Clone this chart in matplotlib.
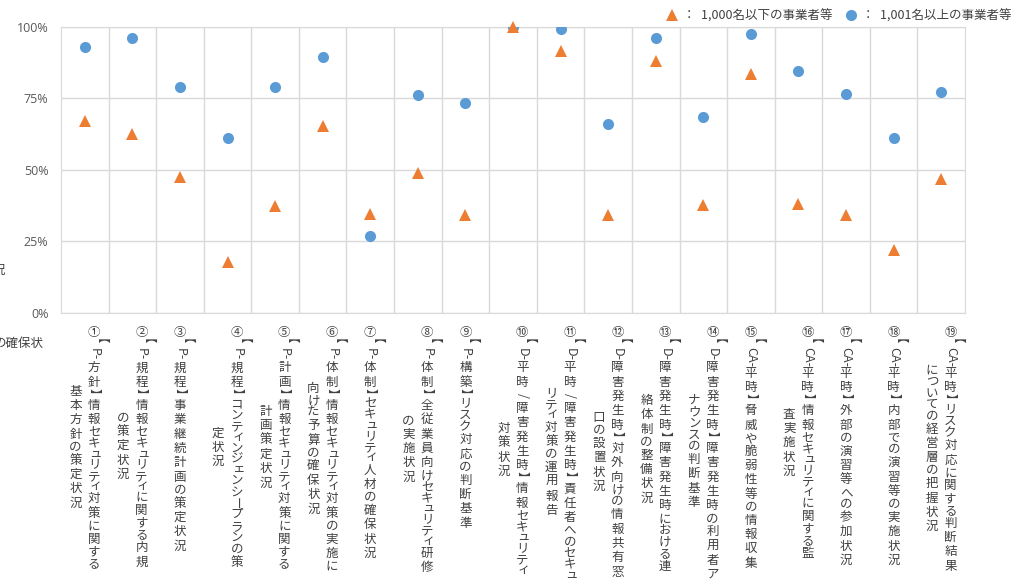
import matplotlib
matplotlib.use("Agg")
import matplotlib.pyplot as plt
from matplotlib.transforms import offset_copy
from matplotlib.lines import Line2D

plt.rcParams['font.family'] = ['Noto Sans CJK JP', 'DejaVu Sans']

# 評価項目（縦書きラベル、1要素 = 1列）
labels = [
    ["①【P-方針】情報セキュリティ対策に関する", "基本方針の策定状況"],
    ["②【P-規程】情報セキュリティに関する内規", "の策定状況"],
    ["③【P-規程】事業継続計画の策定状況"],
    ["④【P-規程】コンティンジェンシープランの策", "定状況"],
    ["⑤【P-計画】情報セキュリティ対策に関する", "計画策定状況"],
    ["⑥【P-体制】情報セキュリティ対策の実施に", "向けた予算の確保状況"],
    ["⑦【P-体制】セキュリティ人材の確保状況"],
    ["⑧【P-体制】全従業員向けセキュリティ研修", "の実施状況"],
    ["⑨【P-構築】リスク対応の判断基準"],
    ["⑩【D-平時/障害発生時】情報セキュリティ", "対策状況"],
    ["⑪【D-平時/障害発生時】責任者へのセキュ", "リティ対策の運用報告"],
    ["⑫【D-障害発生時】対外向けの情報共有窓", "口の設置状況"],
    ["⑬【D-障害発生時】障害発生時における連", "絡体制の整備状況"],
    ["⑭【D-障害発生時】障害発生時の利用者ア", "ナウンスの判断基準"],
    ["⑮【CA-平時】脅威や脆弱性等の情報収集"],
    ["⑯【CA-平時】情報セキュリティに関する監", "査実施状況"],
    ["⑰【CA-平時】外部の演習等への参加状況"],
    ["⑱【CA-平時】内部での演習等の実施状況"],
    ["⑲【CA-平時】リスク対応に関する判断結果", "についての経営層の把握状況"],
]

small_1000 = [0.671, 0.624, 0.474, 0.178, 0.373, 0.653, 0.346, 0.487, 0.342, 1.0,
              0.916, 0.343, 0.881, 0.376, 0.835, 0.381, 0.342, 0.219, 0.469]
large_1001 = [0.928, 0.959, 0.789, 0.611, 0.789, 0.895, 0.269, 0.760, 0.733, 1.0,
              0.992, 0.659, 0.959, 0.685, 0.974, 0.845, 0.765, 0.611, 0.773]

series_names = ["：  1,000名以下の事業者等", "：  1,001名以上の事業者等"]
yticks = [0, 0.25, 0.5, 0.75, 1.0]
ytick_labels = ["0%", "25%", "50%", "75%", "100%"]

BLUE = '#5B9BD5'
ORANGE = '#ED7D31'
GRID = '#D9D9D9'
TXT = '#404040'

W, H = 1019, 580
fig = plt.figure(figsize=(W / 100, H / 100), dpi=100)
ax = fig.add_axes([61 / W, 1 - 312.7 / H, (965 - 61) / W, (312.7 - 26.7) / H])

xs = list(range(len(labels)))
ax.plot(xs, large_1001, 'o', color=BLUE, ms=8, mew=0, zorder=3)
ax.plot(xs, small_1000, '^', color=ORANGE, ms=8, mew=0, zorder=4, clip_on=False)

ax.set_xlim(-0.5, len(labels) - 0.5)
ax.set_ylim(0, 1)
ax.set_yticks(yticks, ytick_labels, family=['Open Sans'], fontsize=9, color='#595959')
ax.set_xticks([i + 0.5 for i in range(len(labels) - 1)])
ax.set_xticklabels([])
ax.grid(color=GRID, lw=1)
ax.set_axisbelow(True)
ax.tick_params(length=0, pad=9)
for s in ax.spines.values():
    s.set_color(GRID)

# 縦書きラベル（文字ごとに配置、括弧・長音・英字は90度回転）
ROT = set("【】ー/")
SMALL = set("ァィゥェォャュョッ")


def is_kana(c):
    return '\u3040' <= c <= '\u30ff'


def tokens(line):
    out = []
    i = 0
    while i < len(line):
        c = line[i]
        if c.isascii() and c != "/":
            j = i
            while j < len(line) and line[j].isascii() and line[j] != "/":
                j += 1
            run = line[i:j]
            out.append((run, 0.45 * len(run) + 0.1, True, 0, 0))
            i = j
            continue
        if c in "【】":
            out.append((c, 0.7, True, 0, 0))
        elif c in ROT:
            out.append((c, 0.92, True, 0, 0))
        elif c in SMALL:
            out.append((c, 0.75, False, 0.12, 0.1))
        elif is_kana(c):
            out.append((c, 0.92, False, 0, 0))
        else:
            out.append((c, 1.15, False, 0, 0))
        i += 1
    return out


def vlabel(xpos, lines, size=9):
    step = size * 1.0
    colsp = 13.3
    toks = [tokens(l) for l in lines]
    lens = [sum(t[1] for t in tl) for tl in toks]
    longest = max(lens)
    n = len(lines)
    base = ax.get_xaxis_transform()
    for j, tl in enumerate(toks):
        dx = ((n - 1) / 2 - j) * colsp
        cur = -8.9 - (longest - lens[j]) / 2 * step
        for text, adv, rot, ox, oy in tl:
            cy = cur - adv * step / 2
            tr = offset_copy(base, fig=fig, x=dx + ox * step, y=cy + oy * step, units='points')
            ax.text(xpos, 0, text, transform=tr, ha='center', va='center',
                    rotation=-90 if rot else 0, rotation_mode='anchor',
                    fontsize=size, color=TXT, clip_on=False)
            cur -= adv * step


for i, lines in enumerate(labels):
    vlabel(i, lines)

# 凡例
handles = [Line2D([], [], ls='', marker='^', color=ORANGE, ms=8, mew=0),
           Line2D([], [], ls='', marker='o', color=BLUE, ms=8, mew=0)]
fig.legend(handles, series_names, loc='center right', bbox_to_anchor=(1023 / W, 1 - 16 / H),
           ncol=2, frameon=False, fontsize=9, handletextpad=0.4, columnspacing=1.0,
           handlelength=1.0, labelcolor=TXT)

# 左端に切れて見えている文字
fig.text(5 / W, 1 - 270 / H, "況", ha='right', va='center', fontsize=9, color=TXT)
fig.text(44 / W, 1 - 343 / H, "の確保状", ha='right', va='center', fontsize=9, color=TXT)

fig.savefig("out.png", dpi=100)
